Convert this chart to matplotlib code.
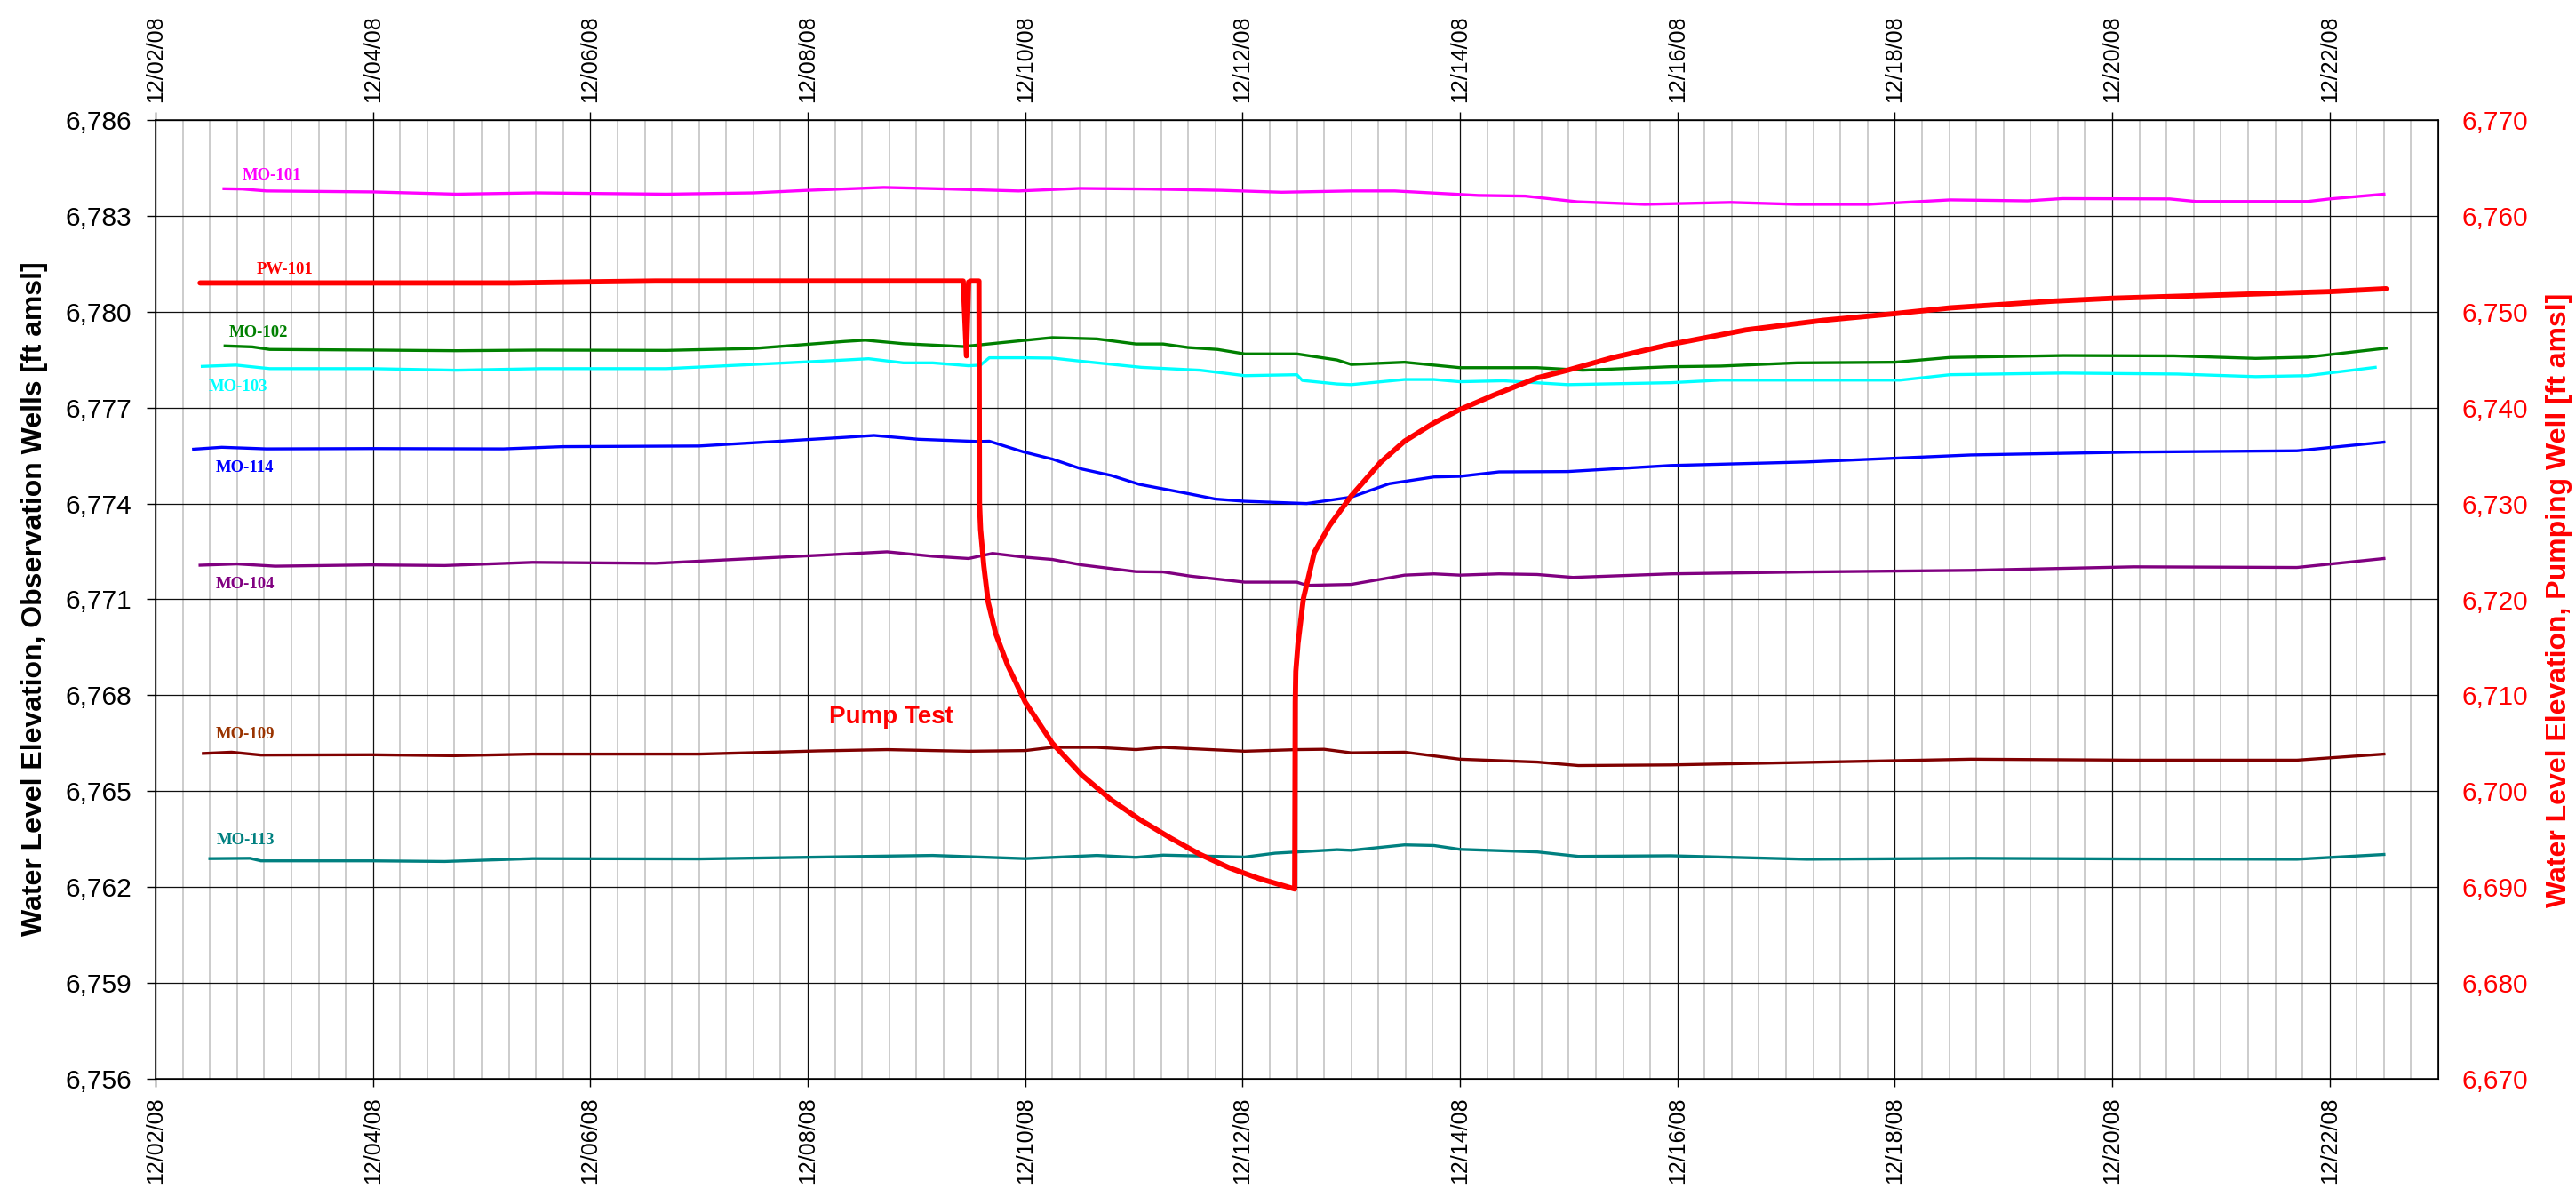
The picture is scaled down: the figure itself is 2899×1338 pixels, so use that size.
import matplotlib
matplotlib.use("Agg")
import matplotlib.pyplot as plt
import matplotlib.dates as mdates
from matplotlib.ticker import FuncFormatter, MultipleLocator
import numpy as np
import pandas as pd

plt.rcParams['font.family'] = ['Liberation Sans', 'DejaVu Sans']

start = pd.Timestamp('2008-12-02')

# observation wells (left axis), x = days after 12/02/08 00:00
mo101_days = [0.63, 0.80, 1.02, 2.0, 2.77, 3.5, 4.7, 5.5, 6.0, 6.7, 7.2, 7.94, 8.5, 9.15, 9.8,
              10.36, 11.0, 11.4, 12.17, 12.6, 13.08, 13.7, 14.49, 15.1, 15.76, 16.51, 17.22,
              17.54, 18.53, 18.77, 19.8, 20.0, 20.5]
mo101_vals = [6783.85, 6783.84, 6783.78, 6783.75, 6783.68, 6783.72, 6783.68, 6783.72, 6783.80,
              6783.89, 6783.85, 6783.78, 6783.86, 6783.84, 6783.80, 6783.74, 6783.78, 6783.78,
              6783.64, 6783.62, 6783.44, 6783.36, 6783.42, 6783.36, 6783.36, 6783.50, 6783.47,
              6783.54, 6783.53, 6783.45, 6783.45, 6783.53, 6783.68]

mo102_days = [0.64, 0.89, 1.05, 2.0, 2.77, 3.55, 4.7, 5.5, 6.34, 6.53, 6.88, 7.43, 7.98, 8.25,
              8.66, 9.02, 9.27, 9.5, 9.77, 10.02, 10.5, 10.87, 11.0, 11.49, 12.0, 12.71, 13.13,
              13.94, 14.4, 15.1, 16.0, 16.51, 17.55, 18.57, 19.32, 19.8, 20.52]
mo102_vals = [6778.93, 6778.90, 6778.82, 6778.80, 6778.78, 6778.80, 6778.79, 6778.85, 6779.07,
              6779.11, 6779.00, 6778.91, 6779.10, 6779.19, 6779.15, 6778.99, 6778.99, 6778.88,
              6778.82, 6778.68, 6778.68, 6778.49, 6778.35, 6778.42, 6778.25, 6778.25, 6778.17,
              6778.28, 6778.30, 6778.40, 6778.42, 6778.57, 6778.63, 6778.62, 6778.54, 6778.58,
              6778.86]

mo103_days = [0.43, 0.74, 1.05, 1.99, 2.77, 3.55, 4.7, 5.5, 6.34, 6.56, 6.88, 7.15, 7.48, 7.59,
              7.67, 7.98, 8.25, 8.52, 9.07, 9.61, 10.02, 10.5, 10.55, 10.87, 11.0, 11.49, 11.76,
              12.0, 12.4, 12.99, 13.94, 14.4, 16.05, 16.51, 17.55, 18.6, 19.32, 19.8, 20.42]
mo103_vals = [6778.29, 6778.33, 6778.22, 6778.22, 6778.17, 6778.22, 6778.22, 6778.35, 6778.49,
              6778.53, 6778.40, 6778.40, 6778.31, 6778.33, 6778.56, 6778.56, 6778.55, 6778.45,
              6778.26, 6778.17, 6778.00, 6778.03, 6777.85, 6777.74, 6777.72, 6777.88, 6777.88,
              6777.81, 6777.84, 6777.72, 6777.78, 6777.86, 6777.86, 6778.03, 6778.08, 6778.05,
              6777.97, 6778.00, 6778.26]

mo114_days = [0.35, 0.61, 1.02, 1.98, 3.2, 3.75, 5.0, 6.34, 6.61, 7.02, 7.57, 7.67, 7.98, 8.25,
              8.52, 8.79, 9.05, 9.5, 9.75, 10.02, 10.59, 11.0, 11.35, 11.76, 12.0, 12.36, 12.99,
              13.94, 15.19, 16.7, 18.2, 19.7, 20.5]
mo114_vals = [6775.70, 6775.76, 6775.71, 6775.72, 6775.71, 6775.78, 6775.80, 6776.07, 6776.13,
              6776.01, 6775.94, 6775.95, 6775.62, 6775.39, 6775.08, 6774.88, 6774.60, 6774.31,
              6774.14, 6774.07, 6774.00, 6774.20, 6774.62, 6774.83, 6774.85, 6774.99, 6775.00,
              6775.19, 6775.30, 6775.52, 6775.61, 6775.65, 6775.92]

mo104_days = [0.41, 0.75, 1.10, 1.98, 2.66, 3.47, 4.6, 6.1, 6.73, 7.15, 7.48, 7.7, 8.0, 8.25,
              8.52, 9.02, 9.27, 9.52, 10.02, 10.5, 10.59, 11.0, 11.49, 11.76, 12.0, 12.36, 12.71,
              13.04, 13.94, 15.19, 16.7, 18.2, 19.7, 20.5]
mo104_vals = [6772.07, 6772.11, 6772.04, 6772.08, 6772.06, 6772.16, 6772.13, 6772.38, 6772.49,
              6772.35, 6772.28, 6772.44, 6772.32, 6772.25, 6772.08, 6771.87, 6771.86, 6771.73,
              6771.54, 6771.54, 6771.44, 6771.47, 6771.76, 6771.80, 6771.76, 6771.80, 6771.78,
              6771.69, 6771.80, 6771.86, 6771.91, 6772.02, 6772.00, 6772.28]

mo109_days = [0.44, 0.70, 0.97, 1.98, 2.74, 3.47, 5.0, 6.1, 6.73, 7.15, 7.48, 8.0, 8.25, 8.66,
              9.02, 9.27, 10.02, 10.5, 10.75, 11.0, 11.49, 12.0, 12.71, 13.09, 13.94, 15.19,
              16.7, 18.2, 19.7, 20.5]
mo109_vals = [6766.18, 6766.22, 6766.13, 6766.14, 6766.11, 6766.16, 6766.16, 6766.26, 6766.30,
              6766.27, 6766.25, 6766.27, 6766.37, 6766.37, 6766.30, 6766.37, 6766.25, 6766.30,
              6766.31, 6766.20, 6766.22, 6766.00, 6765.91, 6765.80, 6765.82, 6765.90, 6766.00,
              6765.97, 6765.97, 6766.16]

mo113_days = [0.50, 0.87, 0.97, 1.98, 2.66, 3.47, 5.0, 6.73, 7.15, 8.0, 8.66, 9.02, 9.27, 10.02,
              10.3, 10.87, 11.0, 11.49, 11.76, 12.0, 12.71, 13.09, 13.94, 15.19, 16.7, 18.2,
              19.7, 20.5]
mo113_vals = [6762.89, 6762.90, 6762.82, 6762.82, 6762.80, 6762.89, 6762.88, 6762.97, 6762.99,
              6762.89, 6762.99, 6762.93, 6763.00, 6762.94, 6763.06, 6763.17, 6763.15, 6763.32,
              6763.30, 6763.18, 6763.10, 6762.96, 6762.98, 6762.87, 6762.90, 6762.88, 6762.87,
              6763.02]

# pumping well (right axis)
pw101_days = [0.41, 1.0, 2.0, 3.3, 3.9, 4.6, 5.5, 6.5, 7.43, 7.46, 7.48, 7.50, 7.575, 7.58,
              7.59, 7.62, 7.66, 7.73, 7.84, 8.0, 8.25, 8.52, 8.79, 9.06, 9.34, 9.61, 9.88, 10.15,
              10.48, 10.485, 10.49, 10.51, 10.56, 10.66, 10.80, 11.0, 11.27, 11.49, 11.76, 12.0,
              12.31, 12.71, 12.99, 13.40, 13.94, 14.63, 15.34, 16.0, 16.51, 17.45, 18.0, 18.86,
              20.0, 20.52]
pw101_vals = [6753.0, 6753.0, 6753.0, 6753.0, 6753.1, 6753.2, 6753.2, 6753.2, 6753.2, 6745.4,
              6753.1, 6753.2, 6753.2, 6730.1, 6727.3, 6723.5, 6719.7, 6716.4, 6713.1, 6709.3,
              6705.0, 6701.7, 6699.1, 6697.0, 6695.1, 6693.4, 6692.0, 6690.9, 6689.8, 6709.3,
              6712.5, 6715.4, 6720.1, 6724.9, 6727.7, 6730.8, 6734.3, 6736.5, 6738.4, 6739.8,
              6741.3, 6743.1, 6743.9, 6745.2, 6746.6, 6748.1, 6749.1, 6749.8, 6750.4, 6751.1,
              6751.4, 6751.7, 6752.1, 6752.4]

wells = [
    ('MO-101', mo101_days, mo101_vals, '#ff00ff', '#ff00ff', 0.80, 6784.26),
    ('MO-102', mo102_days, mo102_vals, '#008000', '#008000', 0.68, 6779.34),
    ('MO-103', mo103_days, mo103_vals, '#00ffff', '#00ffff', 0.49, 6777.65),
    ('MO-114', mo114_days, mo114_vals, '#0000ff', '#0000ff', 0.55, 6775.11),
    ('MO-104', mo104_days, mo104_vals, '#800080', '#800080', 0.55, 6771.46),
    ('MO-109', mo109_days, mo109_vals, '#800000', '#993300', 0.55, 6766.77),
    ('MO-113', mo113_days, mo113_vals, '#008080', '#008080', 0.56, 6763.46),
]


def to_dates(days):
    return start + pd.to_timedelta(np.asarray(days), unit='D')


W, H = 2899, 1338
fig = plt.figure(figsize=(W / 100, H / 100), dpi=100)
fig.subplots_adjust(left=175 / W, right=2744 / W, top=1 - 135 / H, bottom=1 - 1214 / H)
ax = fig.add_subplot(111)

for name, d, v, col, lcol, lx, ly in wells:
    ax.plot(to_dates(d), v, color=col, lw=2.4, zorder=3)
    ax.text(start + pd.Timedelta(days=lx), ly, name, color=lcol, fontsize=13.5,
            fontweight='bold', family='Liberation Serif', ha='left', va='center', zorder=4)

ax.text(start + pd.Timedelta(days=6.2), 6767.32, 'Pump Test', color='red', fontsize=20,
        fontweight='bold', ha='left', va='center')
ax.text(start + pd.Timedelta(days=0.93), 6781.32, 'PW-101', color='red', fontsize=13.5,
        fontweight='bold', family='Liberation Serif', ha='left', va='center')

ax.set_xlim(start, start + pd.Timedelta(days=21))
ax.set_ylim(6756, 6786)
ax.yaxis.set_major_locator(MultipleLocator(3))
ax.yaxis.set_major_formatter(FuncFormatter(lambda v, p: f'{v:,.0f}'))

ax.set_xticks(pd.date_range('2008-12-02', '2008-12-22', freq='2D'))
ax.set_xticks(pd.date_range('2008-12-02', '2008-12-23', freq='6h'), minor=True)
ax.xaxis.set_major_formatter(mdates.DateFormatter('%m/%d/%y'))
ax.tick_params(axis='x', which='major', top=True, labeltop=True, labelrotation=90,
               labelsize=18, length=6.5, width=1.0, pad=8)
ax.tick_params(axis='x', which='minor', length=0, top=False)
ax.tick_params(axis='y', labelsize=21.5, length=7.2, width=1.0, pad=12)

ax.grid(which='major', axis='both', color='#101010', lw=0.9)
ax.grid(which='minor', axis='x', color='#c4c4c4', lw=1.2)
ax.set_axisbelow(True)
for s in ax.spines.values():
    s.set_linewidth(1.1)
    s.set_color('black')

ax2 = ax.twinx()
ax2.plot(to_dates(pw101_days), pw101_vals, color='#ff0000', lw=4.2, zorder=5,
         solid_joinstyle='round', solid_capstyle='round')
ax2.set_ylim(6670, 6770)
ax2.yaxis.set_major_locator(MultipleLocator(10))
ax2.yaxis.set_major_formatter(FuncFormatter(lambda v, p: f'{v:,.0f}'))
ax2.tick_params(axis='y', colors='red', labelsize=21.5, length=0, pad=19)
ax2.spines['right'].set_color('black')

fig.text(39 / W, 1 - 674 / H, 'Water Level Elevation, Observation Wells [ft amsl]',
         rotation=90, ha='center', va='center', fontsize=23, fontweight='bold')
fig.text(2880 / W, 1 - 675 / H, 'Water Level Elevation, Pumping Well [ft amsl]',
         rotation=90, ha='center', va='center', fontsize=23, fontweight='bold', color='red')

fig.savefig('out.png', dpi=100)
